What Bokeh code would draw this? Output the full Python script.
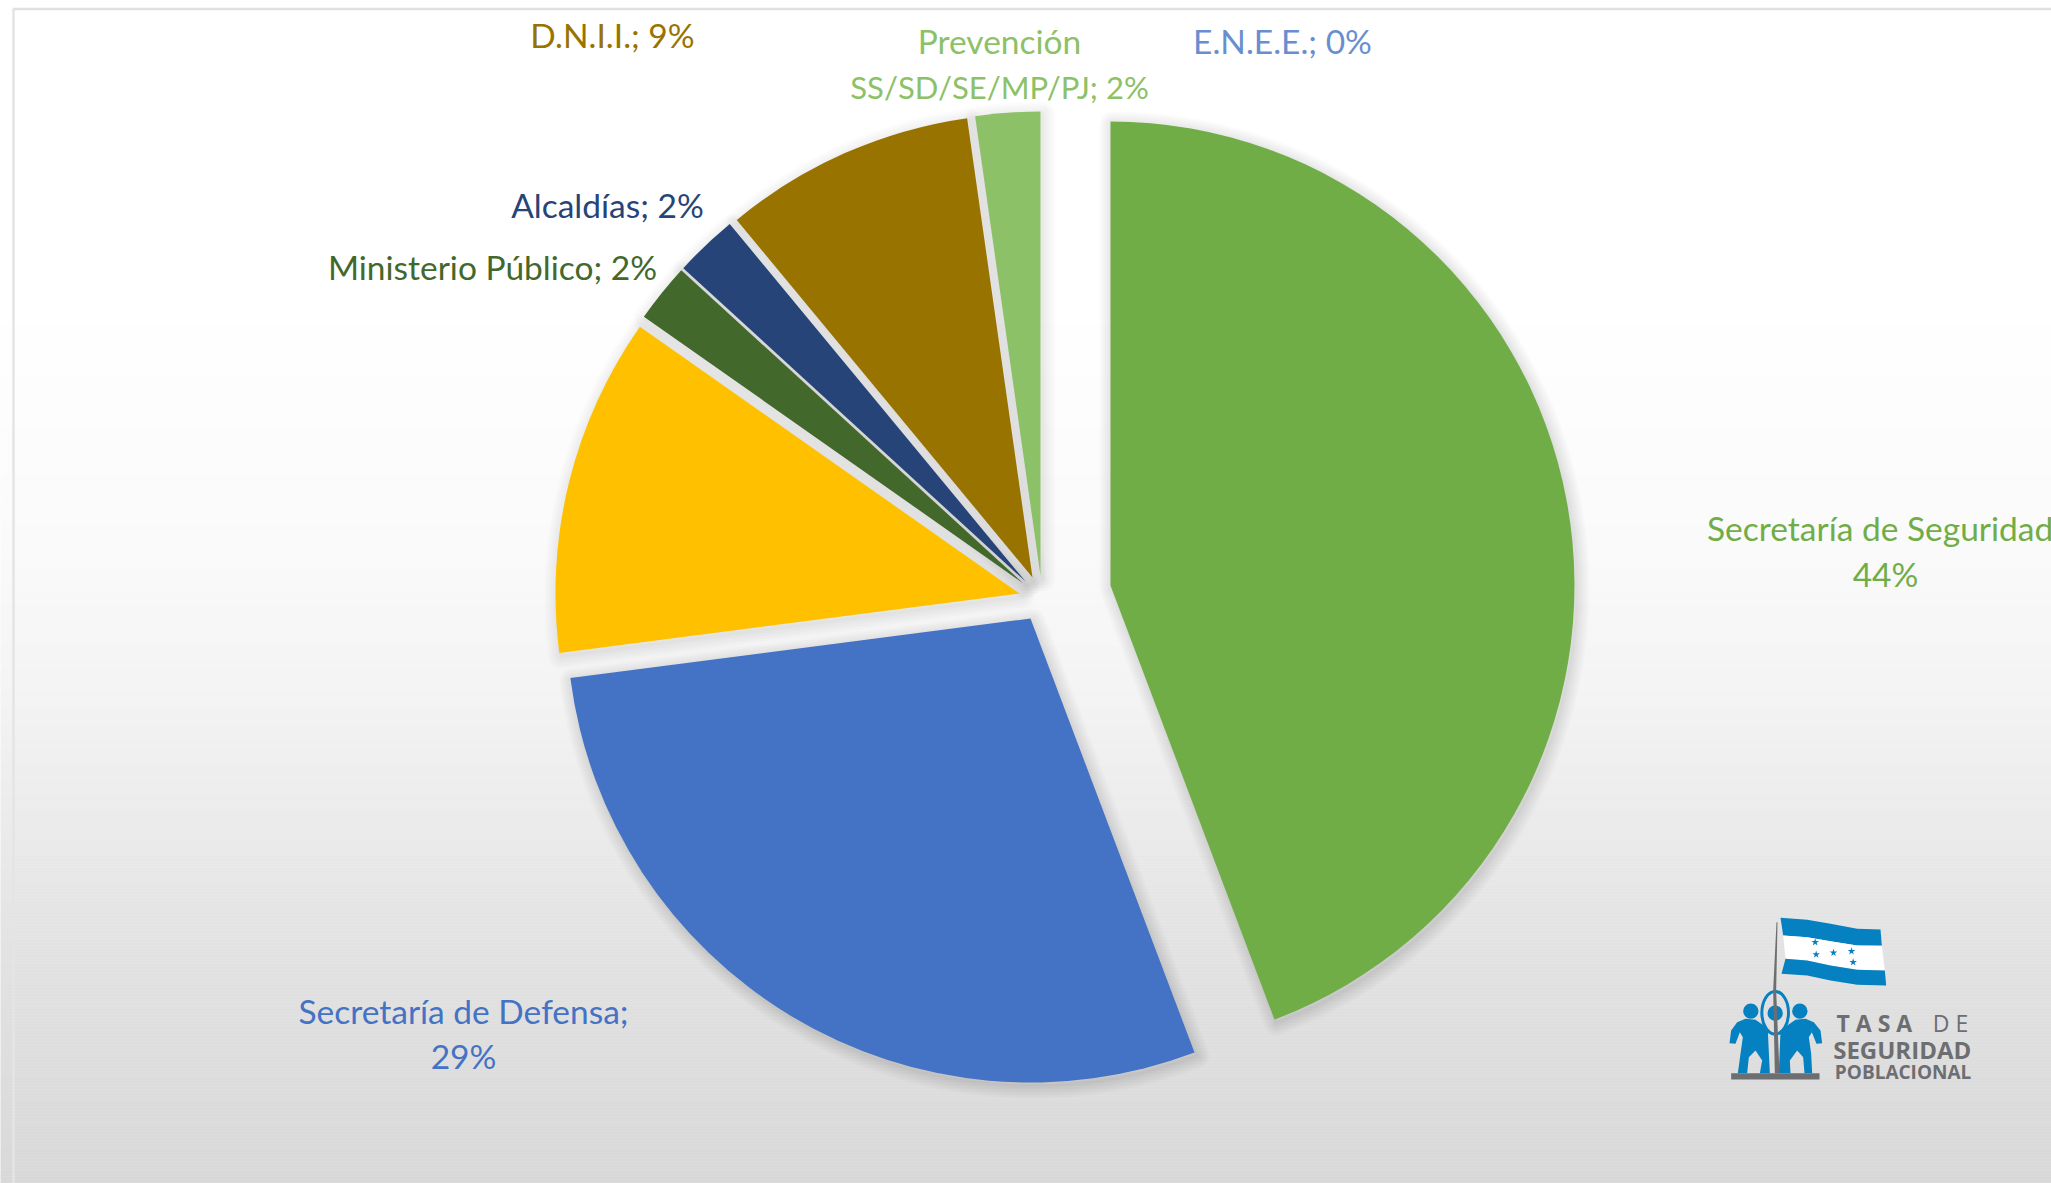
import math
import numpy as np
from bokeh.plotting import figure
from bokeh.models import ColumnDataSource
from bokeh.core.properties import value
from bokeh.embed import file_html
from bokeh.resources import INLINE

# ---- data -------------------------------------------------------------
categories = ["Secretaría de Seguridad", "Secretaría de Defensa", "Otros", "Ministerio Público",
              "Alcaldías", "D.N.I.I.", "Prevención SS/SD/SE/MP/PJ", "E.N.E.E."]
shares = [44.25, 28.7, 11.8, 2.05, 2.2, 8.75, 2.25, 0.0]
slice_colors = ["#70AD47", "#4472C4", "#FFC000", "#43682B", "#264478", "#997300", "#8CC168", "#698ED0"]

label_lines = ["Secretaría de Seguridad;", "44%", "Secretaría de Defensa;", "29%",
               "Ministerio Público; 2%", "Alcaldías; 2%", "D.N.I.I.; 9%",
               "Prevención", "SS/SD/SE/MP/PJ; 2%", "E.N.E.E.; 0%"]
label_colors = ["#70AD47", "#70AD47", "#4472C4", "#4472C4", "#43682B", "#264478", "#997300",
                "#8CC168", "#8CC168", "#698ED0"]

# ---- layout (page pixels, y downward) ----------------------------------
W, H = 2051, 1183
RADIUS = 464
apex_x = [1110, 1030, 1019, 1023, 1025, 1032, 1040, 1040]
apex_y = [585, 618, 593, 583, 581, 577, 575, 575]
label_x = [1884, 1885, 463, 463, 492, 607, 612, 999, 999, 1282]
label_y = [527, 573, 1010, 1055, 266, 204, 34, 40, 86, 40]
label_sizes = ["33.5px"] * 8 + ["31px", "33.5px"]
shadow_alpha = [0.017, 0.017, 0.011, 0.011, 0.011, 0.011, 0.011, 0.011]


def Y(y):
    return H - y


p = figure(width=W, height=H, x_range=(0, W), y_range=(0, H),
           x_axis_type=None, y_axis_type=None, toolbar_location=None,
           output_backend="svg", min_border=0, outline_line_color=None,
           background_fill_color="white", border_fill_color="white")
p.grid.visible = False

# background gradient
stops_y = [0, 300, 550, 700, 950, 1183]
stops_v = [255, 255, 250, 243, 226, 216]
tops = np.arange(0, H, 3)
bots = np.minimum(tops + 3, H)
vals = np.interp((tops + bots) / 2, stops_y, stops_v).round().astype(int)
cols = ["#%02x%02x%02x" % (v, v, v) for v in vals]
p.quad(left=0, right=W, top=[Y(t) for t in tops], bottom=[Y(b) for b in bots],
       fill_color=cols, line_color=cols, line_width=0.5)

# frame lines
p.line([13, 13], [Y(8), Y(H)], line_color="#e4e4e4", line_width=2.5)
p.line([13, W], [Y(8.5), Y(8.5)], line_color="#e0e0e0", line_width=2.5)

# slices
cum = np.cumsum([0] + shares)
start = [math.pi / 2 - c / 100 * 2 * math.pi for c in cum[:-1]]
end = [math.pi / 2 - c / 100 * 2 * math.pi for c in cum[1:]]
keep = [i for i, s in enumerate(shares) if s > 0]

for w in (26, 22, 18, 14, 10, 6, 3):
    p.wedge(x=[apex_x[i] + 2 for i in keep], y=[Y(apex_y[i] + 3) for i in keep], radius=RADIUS,
            start_angle=[start[i] for i in keep], end_angle=[end[i] for i in keep],
            direction="clock", fill_alpha=0, line_color="black",
            line_alpha=[shadow_alpha[i] for i in keep], line_width=w, line_join="round")

src = ColumnDataSource(dict(x=[apex_x[i] for i in keep], y=[Y(apex_y[i]) for i in keep],
                            s=[start[i] for i in keep], e=[end[i] for i in keep],
                            c=[slice_colors[i] for i in keep]))
p.wedge(x="x", y="y", radius=RADIUS, start_angle="s", end_angle="e", direction="clock",
        fill_color="c", line_color=None, source=src)

# labels
p.text(x=label_x, y=[Y(v) for v in label_y], text=label_lines, text_color=label_colors,
       text_align="center", text_baseline="middle", text_font=value("Lato"),
       text_font_size=label_sizes)


# ---- logo ---------------------------------------------------------------
def LX(z):
    return 1680 + z / 3


def LY(z):
    return Y(890 + z / 3)


def poly(pts, color):
    p.patch([LX(a) for a, b in pts], [LY(b) for a, b in pts], fill_color=color, line_color=None)


BLUE, GRAY = "#0580C0", "#6D6E71"
top_e = [(300, 82), (380, 88), (450, 100), (530, 115), (600, 117)]
b1 = [(308, 135), (380, 140), (450, 152), (530, 165), (604, 166)]
b2 = [(315, 205), (380, 210), (450, 225), (530, 238), (613, 240)]
bot_e = [(303, 250), (380, 255), (450, 270), (530, 283), (617, 285)]
poly(top_e + b1[::-1], BLUE)
poly(b1 + b2[::-1], "white")
poly(b2 + bot_e[::-1], BLUE)
p.scatter([LX(a) for a in (404, 407, 459, 513, 518)], [LY(b) for b in (155, 192, 187, 182, 215)],
          marker="star", size=8, fill_color=BLUE, line_color=None)

for cx, cy in ((211, 362), (284, 368), (358, 362)):
    p.circle(x=[LX(cx)], y=[LY(cy)], radius=23 / 3, fill_color=BLUE, line_color=None)
p.ellipse(x=[LX(284)], y=[LY(367)], width=80 / 3, height=128 / 3, fill_alpha=0,
          line_color=BLUE, line_width=3)
poly([(147, 458), (152, 420), (170, 395), (195, 385), (225, 388), (250, 405), (262, 420), (268, 548),
      (238, 548), (245, 510), (225, 480), (205, 500), (200, 548), (172, 548), (180, 490), (187, 440),
      (178, 425), (165, 460)], BLUE)
poly([(425, 458), (420, 420), (400, 395), (375, 385), (345, 388), (320, 405), (300, 420), (295, 548),
      (330, 548), (328, 510), (350, 480), (368, 500), (372, 548), (395, 548), (392, 490), (385, 440),
      (394, 425), (408, 460)], BLUE)
poly([(152, 548), (417, 548), (417, 567), (152, 567)], GRAY)
poly([(288, 95), (291, 95), (287, 300), (297, 548), (283, 548), (278, 300)], GRAY)

p.text(x=[LX(468)], y=[LY(396)], text=["T A S A"], text_color=GRAY, text_align="left",
       text_baseline="middle", text_font=value("Open Sans"), text_font_style="bold", text_font_size="23px")
p.text(x=[LX(757)], y=[LY(396)], text=["D E"], text_color=GRAY, text_align="left",
       text_baseline="middle", text_font=value("Open Sans"), text_font_size="23px")
p.text(x=[LX(458)], y=[LY(477)], text=["SEGURIDAD"], text_color=GRAY, text_align="left",
       text_baseline="middle", text_font=value("Open Sans"), text_font_style="bold", text_font_size="24px")
p.text(x=[LX(463)], y=[LY(545)], text=["POBLACIONAL"], text_color=GRAY, text_align="left",
       text_baseline="middle", text_font=value("Open Sans"), text_font_style="bold", text_font_size="19px")

open("out.html", "w").write(file_html(p, INLINE))
